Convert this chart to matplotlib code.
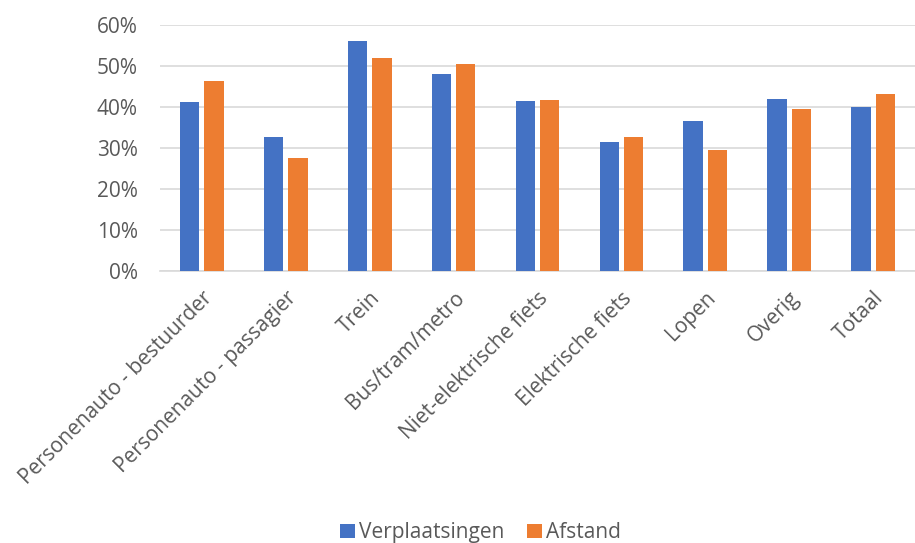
import matplotlib
matplotlib.use("Agg")
import matplotlib.pyplot as plt
import numpy as np
from matplotlib.ticker import PercentFormatter

categories = ["Personenauto - bestuurder", "Personenauto - passagier", "Trein",
              "Bus/tram/metro", "Niet-elektrische fiets", "Elektrische fiets",
              "Lopen", "Overig", "Totaal"]
verplaatsingen = [41.1, 32.6, 56.2, 48.0, 41.4, 31.5, 36.6, 41.9, 40.0]
afstand = [46.3, 27.5, 51.9, 50.5, 41.7, 32.7, 29.4, 39.5, 43.1]
yticks = [0, 10, 20, 30, 40, 50, 60]

plt.rcParams['font.family'] = ['Open Sans', 'DejaVu Sans']
txt = '#595959'

fig = plt.figure(figsize=(9.15, 5.43), dpi=100)
ax = fig.add_axes([160/915, 1-271/543, 755/915, 246/543])

x = np.arange(len(categories))
w = 0.23
ax.bar(x - 0.145, verplaatsingen, w, color='#4472C4', label='Verplaatsingen', zorder=3)
ax.bar(x + 0.145, afstand, w, color='#ED7D31', label='Afstand', zorder=3)

ax.set_xlim(-0.5, len(categories) - 0.5)
ax.set_ylim(0, 60)
ax.set_yticks(yticks)
ax.yaxis.set_major_formatter(PercentFormatter(decimals=0))
ax.grid(axis='y', color='#D9D9D9', linewidth=1.2, zorder=0)
for s in ['top', 'right', 'left']:
    ax.spines[s].set_visible(False)
ax.spines['bottom'].set_color('#D9D9D9')
ax.spines['bottom'].set_linewidth(1.2)
ax.tick_params(axis='both', length=0, colors=txt, labelsize=15)
ax.tick_params(axis='y', pad=16)
ax.set_xticks(x)
ax.set_xticklabels(categories, rotation=45, ha='right', rotation_mode='anchor')
ax.tick_params(axis='x', pad=12)

leg = fig.legend(loc='lower center', bbox_to_anchor=(0.525, -0.035), ncol=2, frameon=False,
                 fontsize=15, handlelength=0.7, handleheight=0.7, columnspacing=1.1,
                 handletextpad=0.2)
for t in leg.get_texts():
    t.set_color(txt)

fig.savefig('out.png', dpi=100)
